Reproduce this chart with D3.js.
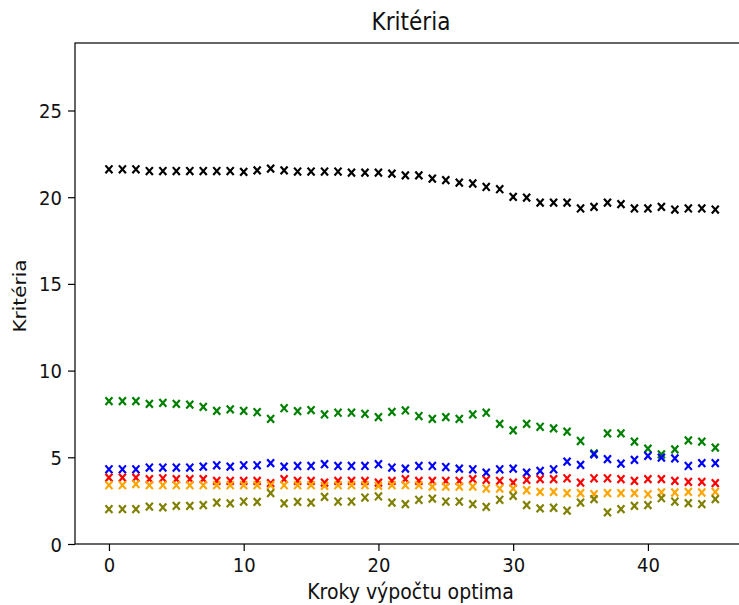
<!DOCTYPE html>
<html><head><meta charset="utf-8">
<script src="https://cdn.jsdelivr.net/npm/d3@7"></script>
<style>body{margin:0;background:#fff}svg{display:block}text{font-family:"DejaVu Sans",sans-serif;fill:#111}</style>
</head><body><svg id="c" width="739" height="605"></svg>
<script>
const steps = d3.range(0, 46);
const xTicks = [0, 10, 20, 30, 40];
const yTicks = [0, 5, 10, 15, 20, 25];
const title = "Kritéria";
const xLabel = "Kroky výpočtu optima";
const yLabel = "Kritéria";
const seriesColors = ["#000000", "#008000", "#0000ff", "#ff0000", "#ffa500", "#808000"];

const black = [21.61,21.61,21.61,21.51,21.51,21.51,21.51,21.51,21.51,21.51,21.46,21.55,21.65,21.55,21.48,21.48,21.48,21.48,21.42,21.42,21.42,21.36,21.26,21.26,21.07,20.98,20.84,20.79,20.59,20.46,20.02,19.98,19.69,19.69,19.69,19.35,19.44,19.69,19.6,19.35,19.35,19.44,19.29,19.35,19.35,19.29];
const green = [8.24,8.24,8.24,8.08,8.14,8.08,8.04,7.91,7.68,7.76,7.68,7.6,7.22,7.83,7.66,7.72,7.47,7.57,7.57,7.51,7.32,7.62,7.70,7.38,7.22,7.32,7.22,7.47,7.57,6.93,6.55,6.93,6.76,6.67,6.48,5.94,5.23,6.38,6.38,5.90,5.50,5.17,5.46,5.98,5.90,5.56];
const blue = [4.31,4.31,4.31,4.41,4.41,4.41,4.41,4.46,4.54,4.46,4.54,4.54,4.66,4.46,4.50,4.50,4.60,4.50,4.50,4.50,4.60,4.41,4.35,4.50,4.50,4.44,4.35,4.31,4.12,4.31,4.35,4.12,4.22,4.31,4.75,4.56,5.17,4.89,4.64,4.85,5.08,4.98,4.94,4.50,4.66,4.66];
const red = [3.83,3.83,3.83,3.74,3.79,3.74,3.74,3.74,3.64,3.64,3.64,3.64,3.51,3.74,3.64,3.64,3.54,3.64,3.64,3.64,3.54,3.64,3.74,3.64,3.64,3.64,3.64,3.74,3.70,3.64,3.54,3.70,3.74,3.74,3.79,3.54,3.79,3.79,3.74,3.64,3.74,3.74,3.64,3.58,3.58,3.51];
const orange = [3.39,3.39,3.45,3.39,3.39,3.39,3.39,3.39,3.39,3.39,3.39,3.39,3.39,3.39,3.39,3.39,3.35,3.39,3.39,3.39,3.35,3.39,3.39,3.39,3.31,3.31,3.31,3.31,3.20,3.20,3.20,3.10,3.01,3.01,2.93,2.93,2.87,2.93,2.93,2.93,2.87,2.97,2.97,3.01,2.97,3.01];
const olive = [2.01,2.01,2.01,2.16,2.11,2.20,2.20,2.24,2.39,2.34,2.45,2.43,2.93,2.34,2.43,2.39,2.72,2.45,2.45,2.68,2.74,2.39,2.30,2.55,2.62,2.45,2.45,2.30,2.14,2.55,2.78,2.24,2.05,2.09,1.92,2.39,2.59,1.82,2.01,2.20,2.24,2.64,2.45,2.36,2.30,2.59];
const series = [black, green, blue, red, orange, olive];

const svg = d3.select("#c");
const sq = 0.9;
const x = d3.scaleLinear().domain([-2.52, 47.25]).range([75, 745.6]);
const y = d3.scaleLinear().domain([0, 25]).range([544, 110.5]);
const yTop = 43;
const yMax = y.invert(yTop);
y.domain([0, yMax]).range([544, yTop]);

const g = svg.append("g");
series.forEach((vals, si) => {
  const sx = 3.5, sy = 3.9;
  g.append("g").selectAll("path").data(steps).join("path")
    .attr("d", i => { const px = x(i), py = y(vals[i]);
      return `M${px-sx},${py-sy}L${px+sx},${py+sy}M${px-sx},${py+sy}L${px+sx},${py-sy}`; })
    .attr("stroke", seriesColors[si]).attr("stroke-width", 2.2).attr("fill", "none");
});

svg.append("rect").attr("x", 75).attr("y", yTop).attr("width", 745.6 - 75).attr("height", 544 - yTop)
  .attr("fill", "none").attr("stroke", "#000").attr("stroke-width", 1.2);

const xa = svg.append("g").attr("transform", "translate(0,544)")
  .call(d3.axisBottom(x).tickValues(xTicks).tickSize(7).tickFormat(d3.format("d")));
xa.select(".domain").remove();
xa.selectAll("line").attr("stroke", "#000").attr("stroke-width", 1.2);
xa.selectAll("text").attr("font-size", 20).attr("font-family", "DejaVu Sans").attr("fill", "#111")
  .attr("y", 0).attr("dy", 0).attr("x", 0)
  .attr("transform", `translate(0,28) scale(${sq},1)`);

const ya = svg.append("g").attr("transform", "translate(75,0)")
  .call(d3.axisLeft(y).tickValues(yTicks).tickSize(7).tickFormat(d3.format("d")));
ya.select(".domain").remove();
ya.selectAll("line").attr("stroke", "#000").attr("stroke-width", 1.2);
ya.selectAll("text").attr("font-size", 20).attr("font-family", "DejaVu Sans").attr("fill", "#111")
  .attr("x", 0).attr("dy", "0.35em").attr("text-anchor", "end")
  .attr("transform", `translate(-13,0) scale(${sq},1)`);

svg.append("text").attr("text-anchor", "middle").attr("font-size", 24)
  .attr("transform", `translate(411,30) scale(${sq},1)`).text(title);
svg.append("text").attr("text-anchor", "middle").attr("font-size", 21)
  .attr("transform", `translate(410.5,599) scale(${sq},1)`).text(xLabel);
svg.append("text").attr("text-anchor", "middle").attr("font-size", 20)
  .attr("transform", `translate(26,296) scale(${sq},1) rotate(-90)`).text(yLabel);
</script></body></html>
